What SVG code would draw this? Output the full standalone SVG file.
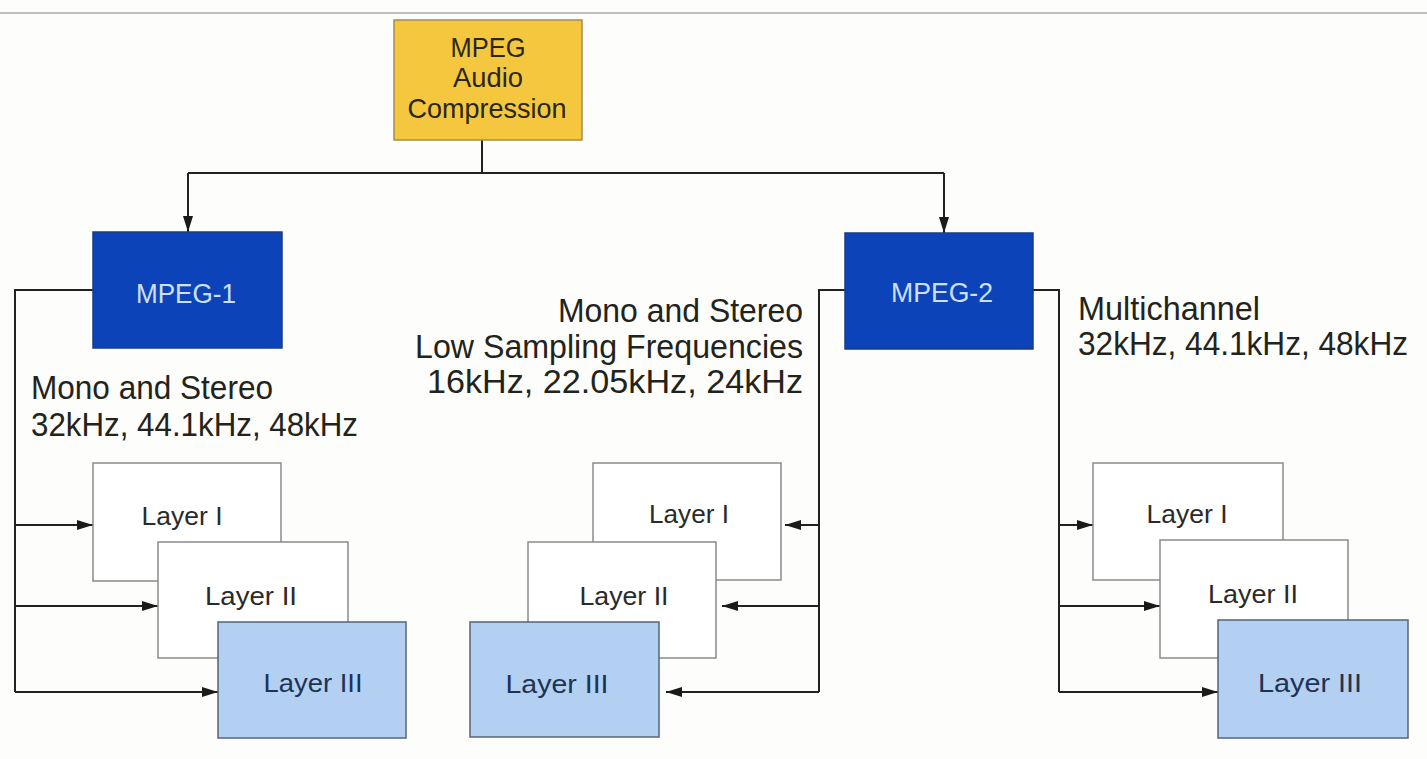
<svg xmlns="http://www.w3.org/2000/svg" width="1427" height="759" viewBox="0 0 1427 759">
<style>
text{font-family:"Liberation Sans",Arial,sans-serif}
.cap{font-size:33px;fill:#22241c}
.top{font-size:28px;fill:#2a2716;text-anchor:middle}
.mp{font-size:27px;fill:#cfe0ff;text-anchor:middle}
.lay{font-size:26px;fill:#2a2a2a;text-anchor:middle}
.lay3{font-size:26px;fill:#1d3352;text-anchor:middle}
.wbox{fill:#ffffff;stroke:#8a8a8a;stroke-width:1.5}
.bbox{fill:#b3cff2;stroke:#56647a;stroke-width:1.5}
.blue{fill:#0d43b8;stroke:#1a3c80;stroke-width:1.5}
.conn{fill:none;stroke:#222;stroke-width:2}
</style>
<defs>
<marker id="ah" markerUnits="userSpaceOnUse" markerWidth="16" markerHeight="10" refX="16" refY="5" orient="auto">
<path d="M0,0 L16,5 L0,10 z" fill="#1a1a1a"/>
</marker>
</defs>
<rect x="0" y="0" width="1427" height="759" fill="#fdfdfb"/>
<line x1="0" y1="13" x2="1427" y2="13" stroke="#a8a8a8" stroke-width="1.5"/>

<g id="connectors">
<path class="conn" d="M482,140 V173 M188,173 H944"/>
<path class="conn" d="M188,173 V232" marker-end="url(#ah)"/>
<path class="conn" d="M944,173 V233" marker-end="url(#ah)"/>
<path class="conn" d="M93,290 H15 V692"/>
<path class="conn" d="M15,525 H93" marker-end="url(#ah)"/>
<path class="conn" d="M15,606 H158" marker-end="url(#ah)"/>
<path class="conn" d="M15,692 H218" marker-end="url(#ah)"/>
<path class="conn" d="M845,290 H819 V692"/>
<path class="conn" d="M819,525 H785" marker-end="url(#ah)"/>
<path class="conn" d="M819,606 H722" marker-end="url(#ah)"/>
<path class="conn" d="M819,692 H666" marker-end="url(#ah)"/>
<path class="conn" d="M1033,290 H1059 V692"/>
<path class="conn" d="M1059,525 H1093" marker-end="url(#ah)"/>
<path class="conn" d="M1059,606 H1160" marker-end="url(#ah)"/>
<path class="conn" d="M1059,692 H1218" marker-end="url(#ah)"/>
</g>

<g id="mpeg-audio">
<rect x="394" y="20" width="188" height="120" fill="#f5c73f" stroke="#a48c52" stroke-width="1.5"/>
<text class="top" x="488" y="57" textLength="75" lengthAdjust="spacingAndGlyphs">MPEG</text>
<text class="top" x="488" y="87" textLength="70" lengthAdjust="spacingAndGlyphs">Audio</text>
<text class="top" x="487" y="118" textLength="159" lengthAdjust="spacingAndGlyphs">Compression</text>
</g>

<g id="mpeg1">
<rect class="blue" x="93" y="232" width="189" height="116"/>
<text class="mp" x="186" y="303" textLength="100" lengthAdjust="spacingAndGlyphs">MPEG-1</text>
</g>

<g id="mpeg2">
<rect class="blue" x="845" y="233" width="188" height="116"/>
<text class="mp" x="942" y="302" textLength="102" lengthAdjust="spacingAndGlyphs">MPEG-2</text>
</g>

<g id="label-mpeg1">
<text class="cap" x="31" y="399" textLength="242" lengthAdjust="spacingAndGlyphs">Mono and Stereo</text>
<text class="cap" x="31" y="436" textLength="327" lengthAdjust="spacingAndGlyphs">32kHz, 44.1kHz, 48kHz</text>
</g>

<g id="label-mpeg2-low">
<text class="cap" x="803" y="322" text-anchor="end" textLength="245" lengthAdjust="spacingAndGlyphs">Mono and Stereo</text>
<text class="cap" x="803" y="358" text-anchor="end" textLength="388" lengthAdjust="spacingAndGlyphs">Low Sampling Frequencies</text>
<text class="cap" x="803" y="393" text-anchor="end" textLength="376" lengthAdjust="spacingAndGlyphs">16kHz, 22.05kHz, 24kHz</text>
</g>

<g id="label-mpeg2-multi">
<text class="cap" x="1078" y="320" textLength="182" lengthAdjust="spacingAndGlyphs">Multichannel</text>
<text class="cap" x="1078" y="355" textLength="330" lengthAdjust="spacingAndGlyphs">32kHz, 44.1kHz, 48kHz</text>
</g>

<g id="m1-layer1">
<rect class="wbox" x="93" y="463" width="188" height="118"/>
<text class="lay" x="182" y="525" textLength="81" lengthAdjust="spacingAndGlyphs">Layer I</text>
</g>
<g id="m1-layer2">
<rect class="wbox" x="158" y="542" width="190" height="116"/>
<text class="lay" x="251" y="605" textLength="92" lengthAdjust="spacingAndGlyphs">Layer II</text>
</g>
<g id="m1-layer3">
<rect class="bbox" x="218" y="622" width="188" height="116"/>
<text class="lay3" x="313" y="692" textLength="99" lengthAdjust="spacingAndGlyphs">Layer III</text>
</g>

<g id="m2low-layer1">
<rect class="wbox" x="593" y="463" width="188" height="117"/>
<text class="lay" x="689" y="523" textLength="80" lengthAdjust="spacingAndGlyphs">Layer I</text>
</g>
<g id="m2low-layer2">
<rect class="wbox" x="528" y="542" width="188" height="116"/>
<text class="lay" x="624" y="605" textLength="89" lengthAdjust="spacingAndGlyphs">Layer II</text>
</g>
<g id="m2low-layer3">
<rect class="bbox" x="470" y="622" width="189" height="115"/>
<text class="lay3" x="557" y="693" textLength="103" lengthAdjust="spacingAndGlyphs">Layer III</text>
</g>

<g id="m2multi-layer1">
<rect class="wbox" x="1093" y="463" width="190" height="117"/>
<text class="lay" x="1187" y="523" textLength="81" lengthAdjust="spacingAndGlyphs">Layer I</text>
</g>
<g id="m2multi-layer2">
<rect class="wbox" x="1160" y="540" width="188" height="118"/>
<text class="lay" x="1253" y="603" textLength="90" lengthAdjust="spacingAndGlyphs">Layer II</text>
</g>
<g id="m2multi-layer3">
<rect class="bbox" x="1218" y="620" width="190" height="118"/>
<text class="lay3" x="1310" y="692" textLength="104" lengthAdjust="spacingAndGlyphs">Layer III</text>
</g>
</svg>
